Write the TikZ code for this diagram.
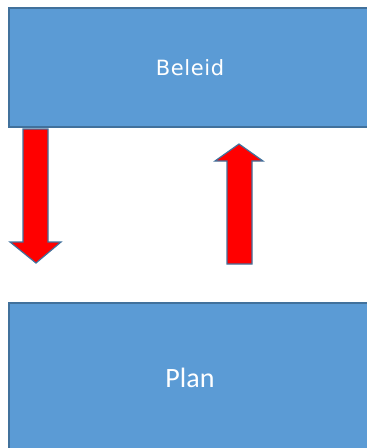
\documentclass[tikz,border=0pt]{standalone}
\usepackage{fontspec}
\setmainfont{Carlito}
\newfontfamily\beleidfont[LetterSpace=3]{DejaVu Sans}
\definecolor{boxblue}{HTML}{5B9BD5}
\definecolor{edgeblue}{HTML}{41719C}
\tikzset{
  blok/.style={draw=edgeblue, fill=boxblue, line width=1.2pt, text=white,
               minimum width=362pt, inner sep=0pt},
  pijl/.style={draw=edgeblue, fill=red, line width=1.2pt, line join=miter}
}
\begin{document}
\begin{tikzpicture}[x=1pt,y=-1pt]
\useasboundingbox (0,0) rectangle (367,448);

\node [blok, minimum height=119pt, font=\beleidfont\fontsize{21}{21}\selectfont] (beleid) at (190,67.5) {Beleid};
\node [blok, minimum height=150pt, font=\fontsize{28}{28}\selectfont] (plan) at (190,378) {Plan};

\draw [pijl] (23,129) -- (48,129) -- (48,242) -- (61,242) -- (36,263) -- (10,242) -- (23,242) -- cycle;
\draw [pijl] (227,264) -- (252,264) -- (252,161) -- (263,161) -- (239,144) -- (215,161) -- (227,161) -- cycle;

\end{tikzpicture}
\end{document}
